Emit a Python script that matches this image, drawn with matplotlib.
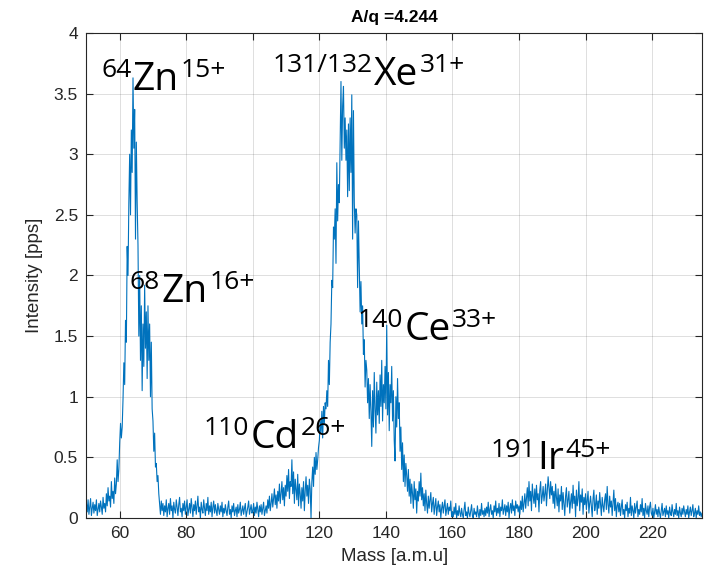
import numpy as np
import matplotlib
matplotlib.use("Agg")
import matplotlib.pyplot as plt
from matplotlib.ticker import FuncFormatter, MultipleLocator

# Measured intensity [pps], sampled every 0.25 a.m.u. starting at 50
r50 = [0.12, 0.05, 0.15, 0.03, 0.09, 0.16, 0.02, 0.08, 0.13, 0.04,
       0.11, 0.06, 0.15, 0.02, 0.07, 0.12, 0.05, 0.14, 0.09, 0.03,
       0.17, 0.08, 0.12, 0.05, 0.20, 0.10, 0.25, 0.14, 0.18, 0.09,
       0.30, 0.16, 0.22, 0.12, 0.33, 0.20, 0.28, 0.48, 0.30, 0.40]
r60 = [0.62, 0.78, 0.66, 0.75, 0.98, 1.28, 1.10, 1.63, 1.45, 2.24,
       2.00, 2.60, 3.00, 2.50, 3.20, 2.85, 3.63, 3.05, 3.37, 2.30,
       3.10, 2.60, 2.25, 1.50, 2.00, 1.30, 1.75, 1.05, 1.60, 1.25,
       1.92, 1.40, 1.70, 1.15, 1.75, 1.30, 1.60, 1.00, 1.45, 0.90]
r70 = [0.80, 0.55, 0.70, 0.42, 0.45, 0.30, 0.35, 0.20, 0.12, 0.03,
       0.14, 0.06, 0.12, 0.02, 0.10, 0.05, 0.15, 0.01, 0.08, 0.12,
       0.03, 0.16, 0.06, 0.10, 0.00, 0.13, 0.07, 0.04, 0.15, 0.09,
       0.02, 0.11, 0.17, 0.05, 0.08, 0.01, 0.12, 0.06, 0.14, 0.03]
r80 = [0.09, 0.15, 0.02, 0.07, 0.12, 0.04, 0.16, 0.08, 0.01, 0.11,
       0.06, 0.14, 0.03, 0.10, 0.18, 0.05, 0.09, 0.00, 0.13, 0.07,
       0.04, 0.15, 0.08, 0.02, 0.12, 0.06, 0.17, 0.03, 0.10, 0.05,
       0.13, 0.01, 0.09, 0.14, 0.04, 0.11, 0.06, 0.02, 0.12, 0.07]
r90 = [0.03, 0.10, 0.05, 0.13, 0.01, 0.08, 0.04, 0.11, 0.06, 0.02,
       0.09, 0.14, 0.03, 0.07, 0.00, 0.10, 0.05, 0.12, 0.02, 0.06,
       0.09, 0.01, 0.11, 0.04, 0.07, 0.13, 0.02, 0.06, 0.10, 0.03,
       0.08, 0.12, 0.01, 0.05, 0.09, 0.14, 0.03, 0.07, 0.11, 0.04]
r100 = [0.06, 0.12, 0.02, 0.09, 0.04, 0.13, 0.07, 0.01, 0.10, 0.05,
        0.11, 0.03, 0.08, 0.13, 0.02, 0.06, 0.10, 0.04, 0.15, 0.08,
        0.18, 0.06, 0.12, 0.20, 0.09, 0.16, 0.24, 0.11, 0.19, 0.08,
        0.22, 0.14, 0.28, 0.12, 0.20, 0.30, 0.15, 0.25, 0.10, 0.27]
r110 = [0.18, 0.35, 0.22, 0.40, 0.16, 0.30, 0.26, 0.48, 0.20, 0.38,
        0.12, 0.32, 0.24, 0.15, 0.36, 0.10, 0.28, 0.20, 0.08, 0.25,
        0.14, 0.30, 0.06, 0.22, 0.34, 0.18, 0.27, 0.12, 0.32, 0.24,
        0.00, 0.30, 0.42, 0.26, 0.50, 0.36, 0.54, 0.40, 0.48, 0.58]
r120 = [0.64, 0.80, 0.70, 0.88, 0.66, 0.92, 0.78, 0.95, 0.90, 1.05,
        0.92, 1.30, 1.10, 1.45, 1.60, 1.96, 1.90, 2.40, 2.30, 2.55,
        2.10, 2.93, 2.45, 2.75, 2.60, 3.10, 3.60, 2.95, 3.40, 3.56,
        3.05, 3.30, 2.95, 3.20, 2.65, 3.25, 2.70, 3.30, 2.85, 3.49]
r130 = [2.30, 3.36, 2.60, 2.35, 2.55, 2.50, 1.90, 2.45, 2.05, 1.70,
        1.95, 1.60, 1.75, 1.35, 1.47, 1.08, 1.30, 1.22, 0.95, 1.15,
        0.82, 1.10, 0.88, 0.59, 1.05, 0.75, 1.20, 0.90, 0.70, 1.12,
        0.85, 1.05, 0.78, 1.18, 0.92, 1.30, 0.80, 1.10, 0.95, 1.25]
r140 = [0.90, 1.59, 0.85, 1.20, 0.72, 1.10, 0.95, 1.25, 0.80, 1.05,
        0.64, 0.47, 1.00, 0.75, 1.15, 0.82, 0.95, 0.55, 0.75, 0.40,
        0.62, 0.30, 0.52, 0.26, 0.45, 0.35, 0.22, 0.40, 0.18, 0.32,
        0.12, 0.28, 0.20, 0.08, 0.30, 0.15, 0.24, 0.04, 0.22, 0.14]
r150 = [0.30, 0.18, 0.37, 0.15, 0.25, 0.10, 0.20, 0.06, 0.23, 0.12,
        0.04, 0.18, 0.08, 0.15, 0.21, 0.05, 0.12, 0.17, 0.03, 0.10,
        0.16, 0.02, 0.09, 0.14, 0.05, 0.11, 0.00, 0.08, 0.13, 0.04,
        0.10, 0.15, 0.02, 0.07, 0.12, 0.03, 0.09, 0.06, 0.14, 0.01]
r160 = [0.05, 0.01, 0.09, 0.03, 0.12, 0.00, 0.06, 0.02, 0.10, 0.04,
        0.01, 0.08, 0.03, 0.00, 0.07, 0.13, 0.02, 0.05, 0.00, 0.09,
        0.04, 0.01, 0.06, 0.11, 0.02, 0.00, 0.08, 0.03, 0.05, 0.01,
        0.10, 0.04, 0.00, 0.07, 0.02, 0.12, 0.03, 0.06, 0.01, 0.08]
r170 = [0.02, 0.09, 0.04, 0.13, 0.01, 0.07, 0.11, 0.03, 0.06, 0.00,
        0.10, 0.05, 0.14, 0.02, 0.08, 0.04, 0.12, 0.01, 0.09, 0.06,
        0.15, 0.03, 0.07, 0.11, 0.02, 0.10, 0.05, 0.13, 0.00, 0.08,
        0.12, 0.04, 0.15, 0.06, 0.10, 0.02, 0.14, 0.08, 0.11, 0.05]
r180 = [0.10, 0.03, 0.14, 0.07, 0.18, 0.05, 0.12, 0.20, 0.08, 0.16,
        0.25, 0.10, 0.30, 0.14, 0.22, 0.06, 0.28, 0.18, 0.12, 0.24,
        0.09, 0.27, 0.15, 0.20, 0.05, 0.23, 0.30, 0.12, 0.18, 0.26,
        0.14, 0.20, 0.28, 0.10, 0.22, 0.34, 0.25, 0.16, 0.30, 0.19]
r190 = [0.26, 0.12, 0.22, 0.08, 0.28, 0.17, 0.10, 0.24, 0.05, 0.19,
        0.14, 0.26, 0.07, 0.21, 0.11, 0.02, 0.18, 0.25, 0.09, 0.15,
        0.22, 0.04, 0.13, 0.20, 0.08, 0.27, 0.12, 0.18, 0.01, 0.23,
        0.10, 0.16, 0.30, 0.06, 0.19, 0.13, 0.24, 0.03, 0.17, 0.11]
r200 = [0.20, 0.07, 0.15, 0.22, 0.04, 0.12, 0.18, 0.09, 0.01, 0.16,
        0.23, 0.06, 0.11, 0.19, 0.03, 0.14, 0.08, 0.21, 0.12, 0.02,
        0.17, 0.10, 0.05, 0.15, 0.20, 0.07, 0.26, 0.11, 0.04, 0.18,
        0.09, 0.14, 0.02, 0.12, 0.23, 0.06, 0.16, 0.01, 0.10, 0.13]
r210 = [0.05, 0.12, 0.02, 0.09, 0.15, 0.03, 0.07, 0.00, 0.11, 0.06,
        0.13, 0.01, 0.08, 0.04, 0.17, 0.02, 0.10, 0.06, 0.00, 0.12,
        0.04, 0.09, 0.14, 0.01, 0.07, 0.03, 0.11, 0.05, 0.16, 0.02,
        0.08, 0.00, 0.12, 0.06, 0.03, 0.10, 0.01, 0.09, 0.13, 0.04]
r220 = [0.02, 0.08, 0.00, 0.05, 0.11, 0.03, 0.07, 0.01, 0.09, 0.04,
        0.00, 0.06, 0.12, 0.02, 0.05, 0.08, 0.01, 0.10, 0.03, 0.06,
        0.00, 0.09, 0.04, 0.02, 0.11, 0.05, 0.01, 0.07, 0.03, 0.12,
        0.02, 0.06, 0.00, 0.09, 0.04, 0.01, 0.08, 0.03, 0.10, 0.05]
r230 = [0.01, 0.07, 0.03, 0.10, 0.00, 0.05, 0.09, 0.02, 0.06, 0.11,
        0.01, 0.04, 0.08, 0.00, 0.06, 0.03, 0.10, 0.02, 0.05, 0.01, 0.04]

rows = [r50, r60, r70, r80, r90, r100, r110, r120, r130, r140,
        r150, r160, r170, r180, r190, r200, r210, r220, r230]
for r in rows[:-1]:
    assert len(r) == 40, len(r)

mass_start = 50.0
mass_step = 0.25
intensity = np.concatenate([np.asarray(r, dtype=float) for r in rows])
mass = mass_start + mass_step * np.arange(intensity.size)

# Ion labels: (prefix superscript, element, suffix superscript, x, y)
ion_labels = [
    ("64", "Zn", "15+", 63.9, 3.53),
    ("68", "Zn", "16+", 72.6, 1.78),
    ("131/132", "Xe", "31+", 136.5, 3.57),
    ("140", "Ce", "33+", 145.5, 1.47),
    ("110", "Cd", "26+", 99.4, 0.58),
    ("191", "Ir", "45+", 185.5, 0.40),
]

title_text = "A/q =4.244"
xlabel_text = "Mass [a.m.u]"
ylabel_text = "Intensity [pps]"

axis_grey = "#262626"
line_blue = "#0072BD"

plt.rcParams["font.family"] = ["Liberation Sans", "DejaVu Sans"]

fig = plt.figure(figsize=(7.13, 5.79), dpi=100)
ax = fig.add_axes([0.1212, 0.1054, 0.8634, 0.8376])

ax.plot(mass, intensity, color=line_blue, linewidth=0.8)

ax.set_xlim(50, 235)
ax.set_ylim(0, 4)
ax.xaxis.set_major_locator(MultipleLocator(20))
ax.yaxis.set_major_locator(MultipleLocator(0.5))
ax.yaxis.set_major_formatter(FuncFormatter(lambda v, p: f"{v:g}"))

ax.grid(True, color="#262626", alpha=0.15, linewidth=0.7)
ax.set_axisbelow(True)
for side in ax.spines.values():
    side.set_color(axis_grey)
    side.set_linewidth(0.8)
ax.tick_params(direction="in", top=True, right=True, length=5,
               width=0.8, color=axis_grey, labelcolor=axis_grey,
               labelsize=12.5, pad=6)

ax.set_title(title_text, fontsize=12.5, fontweight="bold", pad=8,
             color="black")
ax.set_xlabel(xlabel_text, fontsize=13.5, color=axis_grey, labelpad=5)
ax.set_ylabel(ylabel_text, fontsize=13.5, color=axis_grey, labelpad=8)

label_font = ["Open Sans", "DejaVu Sans"]
main_size = 28
sup_size = 19
for pre, elem, post, x, y in ion_labels:
    main = ax.text(x, y, elem, fontsize=main_size, family=label_font,
                   ha="left", va="baseline", color="black")
    ax.annotate(pre, xy=(0, 1), xycoords=main, xytext=(-1, 2),
                textcoords="offset points", ha="right", va="top",
                fontsize=sup_size, family=label_font, color="black")
    ax.annotate(post, xy=(1, 1), xycoords=main, xytext=(1, 2),
                textcoords="offset points", ha="left", va="top",
                fontsize=sup_size, family=label_font, color="black")

fig.savefig("out.png", dpi=100)
